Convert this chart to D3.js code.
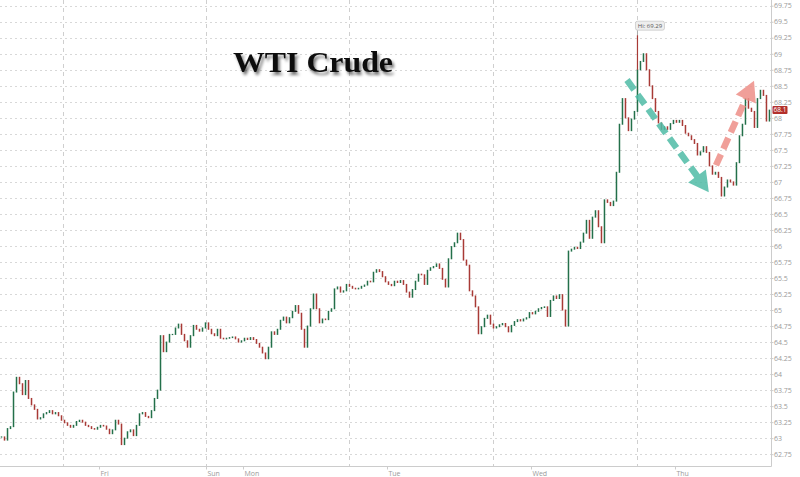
<!DOCTYPE html>
<html><head><meta charset="utf-8">
<script src="https://cdn.jsdelivr.net/npm/d3@7"></script>
<style>body{margin:0;background:#fff;} svg{display:block;}</style>
</head><body><svg id="c" width="800" height="477"></svg>
<script>
// ---- data ----
const closes = [
 63.02,62.97,63.15,63.18,63.72,63.95,63.85,63.68,63.9,63.62,
 63.52,63.45,63.3,63.32,63.38,63.4,63.43,63.38,63.4,63.35,
 63.28,63.24,63.2,63.17,63.2,63.26,63.28,63.25,63.2,63.18,
 63.15,63.14,63.17,63.2,63.19,63.14,63.07,63.13,63.28,63.22,
 62.9,63.0,63.1,63.13,63.04,63.2,63.38,63.4,63.34,63.32,
 63.43,63.62,63.75,64.6,64.35,64.5,64.62,64.62,64.72,64.78,
 64.62,64.52,64.42,64.6,64.76,64.7,64.67,64.72,64.8,64.7,
 64.63,64.6,64.7,64.56,64.55,64.56,64.57,64.58,64.55,64.5,
 64.52,64.56,64.54,64.57,64.54,64.48,64.42,64.33,64.24,64.42,
 64.66,64.62,64.7,64.84,64.89,64.8,64.88,64.98,65.07,64.95,
 64.7,64.42,64.75,65.02,65.25,65.02,64.8,64.86,64.85,64.98,
 65.02,65.33,65.36,65.28,65.3,65.4,65.37,65.34,65.33,65.34,
 65.37,65.39,65.45,65.44,65.59,65.63,65.6,65.52,65.44,65.4,
 65.38,65.45,65.43,65.46,65.4,65.28,65.2,65.32,65.45,65.56,
 65.55,65.4,65.62,65.66,65.68,65.72,65.65,65.48,65.36,65.8,
 65.99,66.05,66.2,66.1,65.78,65.7,65.3,65.22,65.05,64.63,
 64.74,64.87,64.92,64.78,64.72,64.74,64.77,64.79,64.74,64.66,
 64.76,64.82,64.85,64.83,64.86,64.88,64.96,64.94,64.98,65.02,
 65.04,65.05,64.9,65.15,65.22,65.18,65.24,65.0,64.75,65.92,
 65.95,65.98,65.96,66.06,66.2,66.4,66.12,66.45,66.55,66.3,
 66.05,66.72,66.68,66.63,66.7,67.15,67.9,68.3,68.0,67.8,
 67.98,68.1,68.75,68.88,69.0,68.75,68.5,68.3,68.1,67.92,
 67.82,67.86,67.82,67.91,67.96,67.93,67.96,67.88,67.76,67.72,
 67.66,67.6,67.42,67.47,67.55,67.46,67.25,67.12,67.15,67.07,
 66.78,66.92,67.03,67.0,66.95,67.3,67.72,67.9,68.3,68.15,
 68.1,67.85,68.3,68.43,68.35,67.95,68.12
];
const firstBarDay = -1.677;      // trading-day position of first bar (Mon 00:00 = 0)
const barStepDay = 1 / 48;       // 30-minute bars
const dayLabels = ["Fri", "Sun", "Mon", "Tue", "Wed", "Thu"];
const dayLabelPos = [-1, -0.257, 0, 1, 2, 3];
const gridDays = [-1.25, -0.257, 0.738, 1.734, 2.734];
const priceTicks = [62.75,63,63.25,63.5,63.75,64,64.25,64.5,64.75,65,65.25,65.5,65.75,66,
  66.25,66.5,66.75,67,67.25,67.5,67.75,68,68.25,68.5,68.75,69,69.25,69.5,69.75];
const hiValue = 69.29;
const hiBar = 212;
const lastPrice = 68.1;
const titleText = "WTI Crude";
// annotation arrows [startDay, startPrice, endDay, endPrice]
const downArrow = [2.667, 68.59, 3.235, 66.84];
const upArrow = [3.285, 67.26, 3.549, 68.58];

// ---- layout ----
const svg = d3.select("#c");
const W = 771, H = 466.5;
const x = d3.scaleLinear().domain([-1.6875, 3.667]).range([0, W]);
const y = d3.scaleLinear().domain([62.558, 69.839]).range([H, 0]);

const defs = svg.append("defs");
const f = defs.append("filter").attr("id", "sh").attr("x", "-20%").attr("y", "-40%").attr("width", "140%").attr("height", "180%");
f.append("feDropShadow").attr("dx", 2).attr("dy", 3).attr("stdDeviation", 1.8)
  .attr("flood-color", "#000").attr("flood-opacity", 0.55);

// horizontal grid
svg.append("g").selectAll("line").data(priceTicks).join("line")
  .attr("x1", 0).attr("x2", W)
  .attr("y1", d => Math.round(y(d)) + 0.5).attr("y2", d => Math.round(y(d)) + 0.5)
  .attr("stroke", "#d8d8d8").attr("stroke-width", 1).attr("stroke-dasharray", "2,3");

// vertical grid
svg.append("g").selectAll("line").data(gridDays).join("line")
  .attr("x1", d => Math.round(x(d)) + 0.5).attr("x2", d => Math.round(x(d)) + 0.5)
  .attr("y1", 0).attr("y2", H)
  .attr("stroke", "#cfcfcf").attr("stroke-width", 1).attr("stroke-dasharray", "4,4");

// axes lines
svg.append("line").attr("x1", 0).attr("x2", W + 0.5).attr("y1", H).attr("y2", H).attr("stroke", "#cccccc");
svg.append("line").attr("x1", W + 0.5).attr("x2", W + 0.5).attr("y1", 0).attr("y2", H).attr("stroke", "#cccccc");

// right axis labels
const yAxis = d3.axisRight(y).tickValues(priceTicks).tickSize(2).tickFormat(d3.format("~g"));
const ya = svg.append("g").attr("transform", `translate(${W + 0.5},0)`).call(yAxis);
ya.select(".domain").remove();
ya.selectAll("line").attr("stroke", "#ccc");
ya.selectAll("text").attr("fill", "#9a9a9a").attr("font-size", 7).attr("font-family", "'Open Sans', sans-serif").attr("x", 2.5);

// bottom axis labels
const xa = svg.append("g").attr("transform", `translate(0,${H})`);
xa.selectAll("line").data(dayLabelPos).join("line")
  .attr("x1", d => Math.round(x(d)) + 0.5).attr("x2", d => Math.round(x(d)) + 0.5)
  .attr("y1", 0).attr("y2", 3).attr("stroke", "#ccc");
xa.selectAll("text").data(dayLabels).join("text")
  .attr("x", (d, i) => x(dayLabelPos[i]) + 1.5).attr("y", 9)
  .attr("fill", "#9a9a9a").attr("font-size", 7).attr("font-family", "'Open Sans', sans-serif")
  .text(d => d);

// candles
const bars = closes.map((c, i) => ({
  t: firstBarDay + i * barStepDay,
  o: i === 0 ? c : closes[i - 1],
  c: c
}));
const up = "#23704a", dn = "#a83a36";
const cg = svg.append("g");
cg.selectAll("rect").data(bars).join("rect")
  .attr("x", d => x(d.t) - 0.75)
  .attr("width", 1.5)
  .attr("y", d => y(Math.max(d.o, d.c)) - 0.5)
  .attr("height", d => Math.max(1.2, Math.abs(y(d.o) - y(d.c)) + 1))
  .attr("fill", d => d.c >= d.o ? up : dn);
// spike wick to the high
const hb = bars[hiBar];
cg.append("line")
  .attr("x1", x(hb.t)).attr("x2", x(hb.t))
  .attr("y1", y(hiValue)).attr("y2", y(Math.max(hb.o, hb.c)))
  .attr("stroke", dn).attr("stroke-width", 1.2);

// arrows
function arrow(a, color) {
  const x1 = x(a[0]), y1 = y(a[1]), x2 = x(a[2]), y2 = y(a[3]);
  const dx = x2 - x1, dy = y2 - y1, L = Math.hypot(dx, dy);
  const ux = dx / L, uy = dy / L, px = -uy, py = ux;
  const headL = 20, headW = 11;
  const g = svg.append("g").attr("opacity", 0.85);
  g.append("line").attr("x1", x1).attr("y1", y1)
    .attr("x2", x2 - ux * (headL - 2)).attr("y2", y2 - uy * (headL - 2))
    .attr("stroke", color).attr("stroke-width", 6.5).attr("stroke-dasharray", "12,6");
  const bx = x2 - ux * headL, by = y2 - uy * headL;
  g.append("path").attr("d",
    `M${x2},${y2}L${bx + px * headW},${by + py * headW}L${bx - px * headW},${by - py * headW}Z`)
    .attr("fill", color);
}
arrow(downArrow, "#4fbca6");
arrow(upArrow, "#ee8f88");

// Hi label
const hx = x(hb.t), hy = y(hiValue);
svg.append("line").attr("x1", hx).attr("x2", hx).attr("y1", hy - 5).attr("y2", hy).attr("stroke", "#aaa");
svg.append("rect").attr("x", hx - 2).attr("y", hy - 14).attr("width", 29).attr("height", 9).attr("rx", 2)
  .attr("fill", "#eeeeee").attr("stroke", "#bbb").attr("stroke-width", 0.6);
svg.append("text").attr("x", hx + 12.5).attr("y", hy - 7.3).attr("text-anchor", "middle")
  .attr("font-size", 6).attr("font-family", "'Open Sans', sans-serif").attr("fill", "#555")
  .text("Hi: " + d3.format(".2f")(hiValue));

// last price tag
const ly = y(lastPrice) - 1.5;
svg.append("rect").attr("x", W + 1.5).attr("y", ly - 4).attr("width", 15).attr("height", 8).attr("rx", 1)
  .attr("fill", "#b3302c");
svg.append("text").attr("x", W + 9).attr("y", ly + 2.3).attr("text-anchor", "middle")
  .attr("font-size", 6.5).attr("font-family", "'Open Sans', sans-serif").attr("fill", "#fff")
  .text(lastPrice);

// title
svg.append("text").attr("x", 233).attr("y", 72)
  .attr("font-family", "'Liberation Serif', 'Times New Roman', serif").attr("font-weight", "bold")
  .attr("font-size", 29).attr("fill", "#111")
  .attr("textLength", 160).attr("lengthAdjust", "spacingAndGlyphs")
  .attr("filter", "url(#sh)")
  .text(titleText);
</script>
</body></html>
